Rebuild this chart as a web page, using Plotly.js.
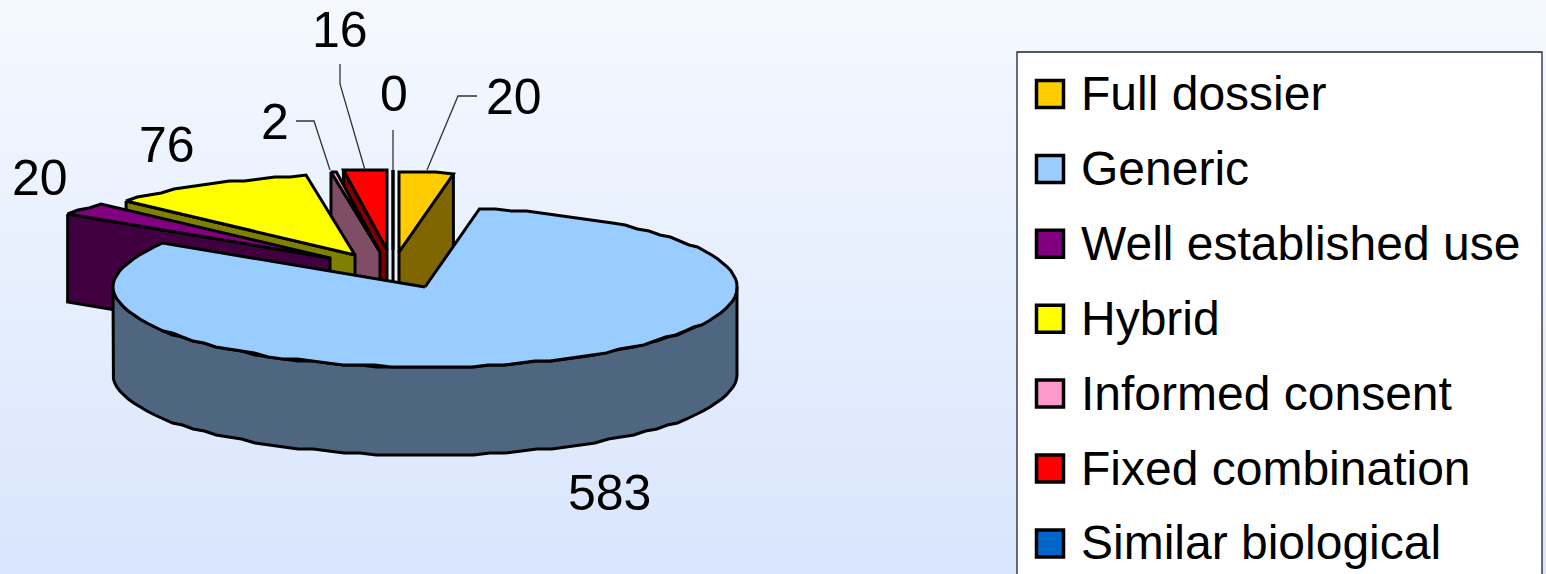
<!DOCTYPE html>
<html><head><meta charset="utf-8">
<script src="https://cdn.plot.ly/plotly-3.0.1.min.js"></script>
<style>
html,body{margin:0;padding:0;width:1546px;height:574px;overflow:hidden;background:linear-gradient(180deg,#f5f9ff 0%,#d8e5fc 100%);}
#chart{width:1546px;height:574px;}
</style></head><body><div id="chart"></div>
<script>
// --- data ---
const categories = ["Full dossier","Generic","Well established use","Hybrid","Informed consent","Fixed combination","Similar biological"];
const values = [20,583,20,76,2,16,0];
// --- styles ---
const topColors  = ["#ffcc00","#99ccff","#800080","#ffff00","#ff99cc","#ff0000","#0066cc"];
const sideColors = ["#806600","#4f6680","#400040","#808000","#804d66","#800000","#003366"];
// where each exploded slice's point sits, in the chart's projected plane
const apexX = [399,425,330,355,380,387,393];
const apexY = [252,287,258,255,252,250,250];
const drawOrder = [5,4,6,0,3,2,1];   // back to front
const RX = 312, RY = 80, DEPTH = 88, STEP = 3, SNAP = 2;
const labelX = [514,609,40,167,275,340,394];
const labelY = [97,493,178,145,122,30,94];
const leaderX = [[477,458,427],null,null,null,[296,314,330],[340,340,365],[393,393]];
const leaderY = [[96,96,170],null,null,null,[121,121,170],[64,84,170],[130,170]];
const FONT = "Liberation Sans, Arial, sans-serif";

const total = values.reduce((a,b)=>a+b,0);
let run = 0;
const spans = values.map(v=>{const s=run; run+=v; return [s/total*360,run/total*360];});
// the outline is snapped to a fine grid: the reference has a slightly stepped rim
const pt = (i,deg,drop)=>{const r=deg*Math.PI/180;
  const dy=Math.round(RY*Math.cos(r)/SNAP)*SNAP;
  return [apexX[i]+RX*Math.sin(r), apexY[i]-dy+(drop||0)];};
function arc(i,a,b,drop){
  const out=[]; const n=Math.max(1,Math.round((b-a)/STEP));
  for(let k=0;k<=n;k++) out.push(pt(i,a+(b-a)*k/n,drop));
  return out;
}
function poly(name,pts,fill){
  return {type:"scatter",mode:"lines",name:name,x:pts.map(p=>p[0]),y:pts.map(p=>p[1]),
    fill:"toself",fillcolor:fill,line:{color:"#000",width:3,shape:"linear"},
    hoverinfo:"name",showlegend:false,cliponaxis:false};
}
const traces=[];
drawOrder.forEach(i=>{
  const [a,b]=spans[i];
  const apex=[apexX[i],apexY[i]], apexLow=[apexX[i],apexY[i]+DEPTH];
  if(i===1){
    const front=arc(i,90,270,0), low=arc(i,90,270,DEPTH).reverse();
    traces.push(poly(categories[i],front.concat(low,[front[0]]),sideColors[i]));
  } else if(i===0){
    const p=pt(i,b),q=pt(i,b,DEPTH);
    traces.push(poly(categories[i],[p,q,apexLow,apex,p],sideColors[i]));
  } else {
    const p=pt(i,a),q=pt(i,a,DEPTH);
    traces.push(poly(categories[i],[p,q,apexLow,apex,p],sideColors[i]));
  }
  const t=[apex].concat(arc(i,a,b,0),[apex]);
  traces.push(poly(categories[i],t,topColors[i]));
});
// leader lines
leaderX.forEach((lx,i)=>{ if(!lx) return;
  traces.push({type:"scatter",mode:"lines",x:lx,y:leaderY[i],line:{color:"#333",width:1.3},
    hoverinfo:"skip",showlegend:false});
});
const annotations=values.map((v,i)=>({x:labelX[i],y:labelY[i],xref:"x",yref:"y",text:String(v),showarrow:false,
  xanchor:"center",yanchor:"middle",font:{family:FONT,size:50,color:"#000"}}));
// legend
const LEG_L=1017,LEG_R=1542,LEG_T=52,SW=27,SWX=1050,ROW0=94,ROWH=74.9;
const shapes=[{type:"rect",xref:"x",yref:"y",x0:LEG_L,x1:LEG_R,y0:LEG_T,y1:600,fillcolor:"#fff",line:{color:"#222",width:1.3},layer:"below"}];
categories.forEach((c,i)=>{
  const y=ROW0+ROWH*i;
  shapes.push({type:"rect",xref:"x",yref:"y",x0:SWX-SW/2,x1:SWX+SW/2,y0:y-SW/2,y1:y+SW/2,
    fillcolor:topColors[i],line:{color:"#000",width:3.5}});
  annotations.push({x:1079,y:y-0.5,xref:"x",yref:"y",text:c,showarrow:false,xanchor:"left",yanchor:"middle",
    font:{family:FONT,size:48,color:"#000"}});
});
Plotly.newPlot("chart",traces,{
  width:1546,height:574,margin:{l:0,r:0,t:0,b:0},
  paper_bgcolor:"rgba(0,0,0,0)",plot_bgcolor:"rgba(0,0,0,0)",showlegend:false,
  xaxis:{range:[0,1546],visible:false,fixedrange:true},
  yaxis:{range:[574,0],visible:false,fixedrange:true},
  shapes:shapes,annotations:annotations
},{displayModeBar:false});
</script></body></html>
